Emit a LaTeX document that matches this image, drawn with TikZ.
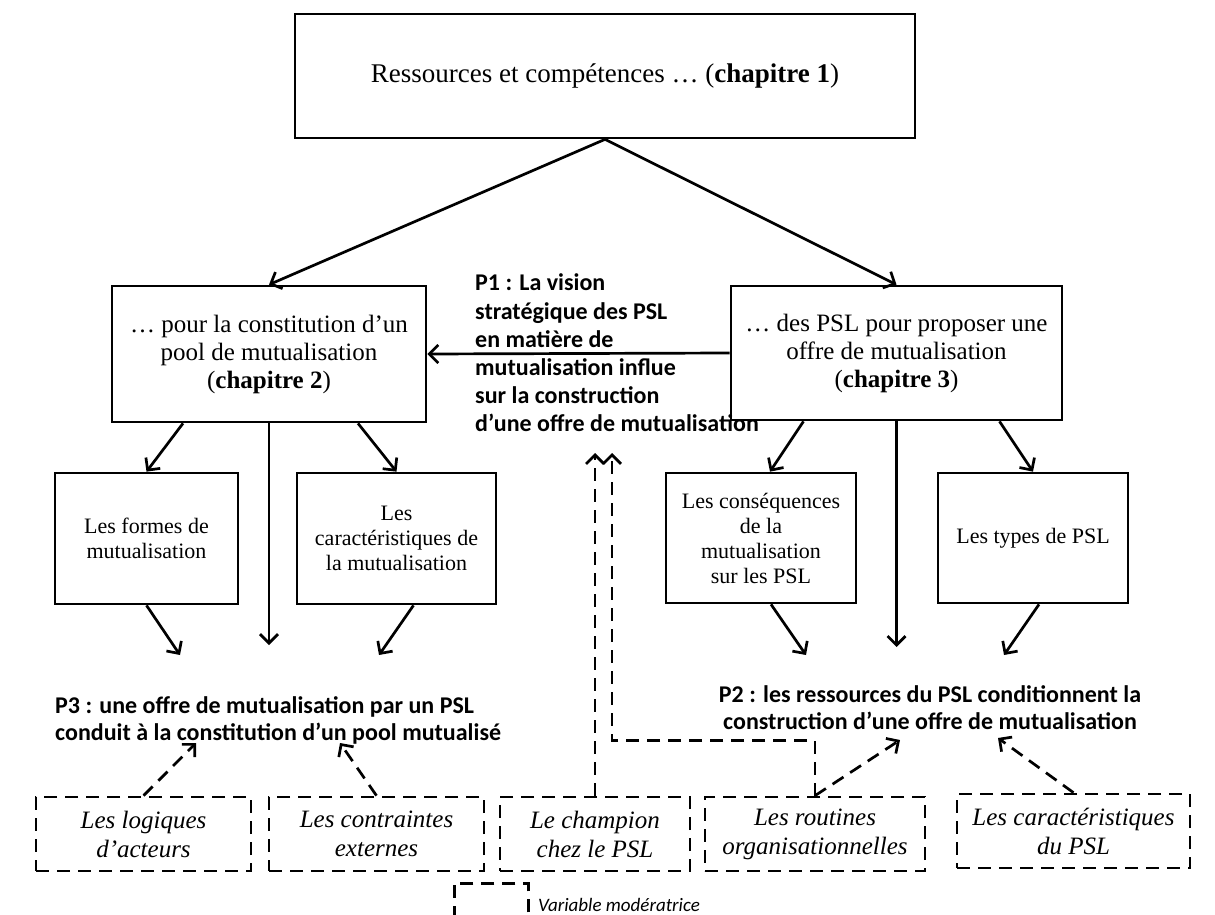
\documentclass[tikz,border=0pt]{standalone}
\usepackage{fontspec}
\setmainfont{Liberation Serif}
\newfontfamily\calib{Carlito}
\usetikzlibrary{arrows.meta}
\begin{document}
\begin{tikzpicture}[x=1pt,y=-1pt,
  every node/.style={inner sep=0pt},
  solidbox/.style={draw, line width=2.7pt, align=center, font=\fontsize{25}{28}\selectfont},
  leafbox/.style={draw, line width=2.7pt, align=center, font=\fontsize{22}{25}\selectfont},
  modbox/.style={draw, line width=2.7pt, dash pattern=on 13pt off 8pt, align=center, font=\fontsize{25}{29}\selectfont\itshape},
  link/.style={line width=2.7pt, -{Straight Barb[length=9pt,width=18pt]}},
  dlink/.style={link, dash pattern=on 13pt off 8pt},
  prop/.style={font=\calib\bfseries\fontsize{24}{28.2}\selectfont},
]
\clip (0,0) rectangle (1215,915);

% chapter boxes
\node[solidbox, minimum width=620pt, minimum height=124pt, font=\fontsize{27}{30}\selectfont] (top) at (605,76)
  {Ressources et compétences … (\textbf{chapitre 1})};
\node[solidbox, minimum width=314pt, minimum height=136pt] (ch2) at (269,354)
  {… pour la constitution d’un\\pool de mutualisation\\(\textbf{chapitre 2})};
\node[solidbox, minimum width=331pt, minimum height=134pt] (ch3) at (896.5,353)
  {… des PSL pour proposer une\\offre de mutualisation\\(\textbf{chapitre 3})};

% sub-themes
\node[leafbox, minimum width=183pt, minimum height=131pt] (formes) at (146.5,538.5)
  {Les formes de\\mutualisation};
\node[leafbox, minimum width=199pt, minimum height=131pt] (caract) at (396.5,538.5)
  {Les\\caractéristiques de\\la mutualisation};
\node[leafbox, minimum width=190pt, minimum height=130pt] (conseq) at (761,538)
  {Les conséquences\\de la\\mutualisation\\sur les PSL};
\node[leafbox, minimum width=190pt, minimum height=130pt] (types) at (1033,538)
  {Les types de PSL};

% moderating variables
\node[modbox, minimum width=215pt, minimum height=74pt] (logiq) at (143.5,834)
  {Les logiques\\d’acteurs};
\node[modbox, minimum width=215pt, minimum height=74pt] (contr) at (376.5,834)
  {Les contraintes\\externes};
\node[modbox, minimum width=190pt, minimum height=74pt] (champ) at (595,834)
  {Le champion\\chez le PSL};
\node[modbox, minimum width=220pt, minimum height=74pt] (routi) at (815,834)
  {Les routines\\organisationnelles};
\node[modbox, minimum width=233pt, minimum height=74pt] (carpsl) at (1073.5,831)
  {Les caractéristiques\\du PSL};

% propositions
\node[prop, anchor=west, align=left] (p1) at (475,353)
  {P1 : La vision\\stratégique des PSL\\en matière de\\mutualisation influe\\sur la construction\\d’une offre de mutualisation};
\node[prop, anchor=west, align=left, font=\calib\bfseries\fontsize{24}{27}\selectfont] (p3) at (55,720)
  {P3 : une offre de mutualisation par un PSL\\conduit à la constitution d’un pool mutualisé};
\node[prop, align=center, font=\calib\bfseries\fontsize{24}{27}\selectfont] (p2) at (930,708)
  {P2 : les ressources du PSL conditionnent la\\construction d’une offre de mutualisation};

% arrow ends below the boxes
\coordinate (p3v) at (269,645);
\coordinate (p3f) at (180,655);
\coordinate (p3c) at (379,655);
\coordinate (p2v) at (896.5,647);
\coordinate (p2c) at (806,655);
\coordinate (p2t) at (1004,655);
\coordinate (p3l) at (196,743);
\coordinate (p3r) at (340,743);
\coordinate (p2l) at (900,740);
\coordinate (p2r) at (998,738);
\coordinate (p1l) at (595,453);
\coordinate (p1r) at (612,453);

% solid links
\draw[link] (top.south) -- (ch2.north);
\draw[link] (top.south) -- (ch3.north);
\draw[link] (ch3.west) -- (ch2.east);

\draw[link] ([xshift=-86pt]ch2.south) -- (formes.north);
\draw[link] (ch2.south) -- (p3v);
\draw[link] ([xshift=89pt]ch2.south) -- (caract.north);
\draw[link] (formes.south) -- (p3f);
\draw[link] ([xshift=17pt]caract.south) -- (p3c);

\draw[link] ([xshift=-93pt]ch3.south) -- ([xshift=9pt]conseq.north);
\draw[link] (ch3.south) -- (p2v);
\draw[link] ([xshift=103pt]ch3.south) -- (types.north);
\draw[link] ([xshift=10pt]conseq.south) -- (p2c);
\draw[link] ([xshift=6pt]types.south) -- (p2t);

% dashed links
\draw[dlink] (logiq.north) -- (p3l);
\draw[dlink] (contr.north) -- (p3r);
\draw[dlink] (routi.north) -- (p2l);
\draw[dlink] (carpsl.north) -- (p2r);
\draw[dlink] (champ.north) -- (p1l);
\draw[dlink] (routi.north) -- ++(0,-55) -| (p1r);

% legend
\node[modbox, minimum width=74pt, minimum height=60pt, anchor=north west] (legend) at (453,882) {};
\node[anchor=west, font=\calib\itshape\fontsize{19}{21}\selectfont] (legtxt) at (538,905) {Variable modératrice};
\end{tikzpicture}
\end{document}
